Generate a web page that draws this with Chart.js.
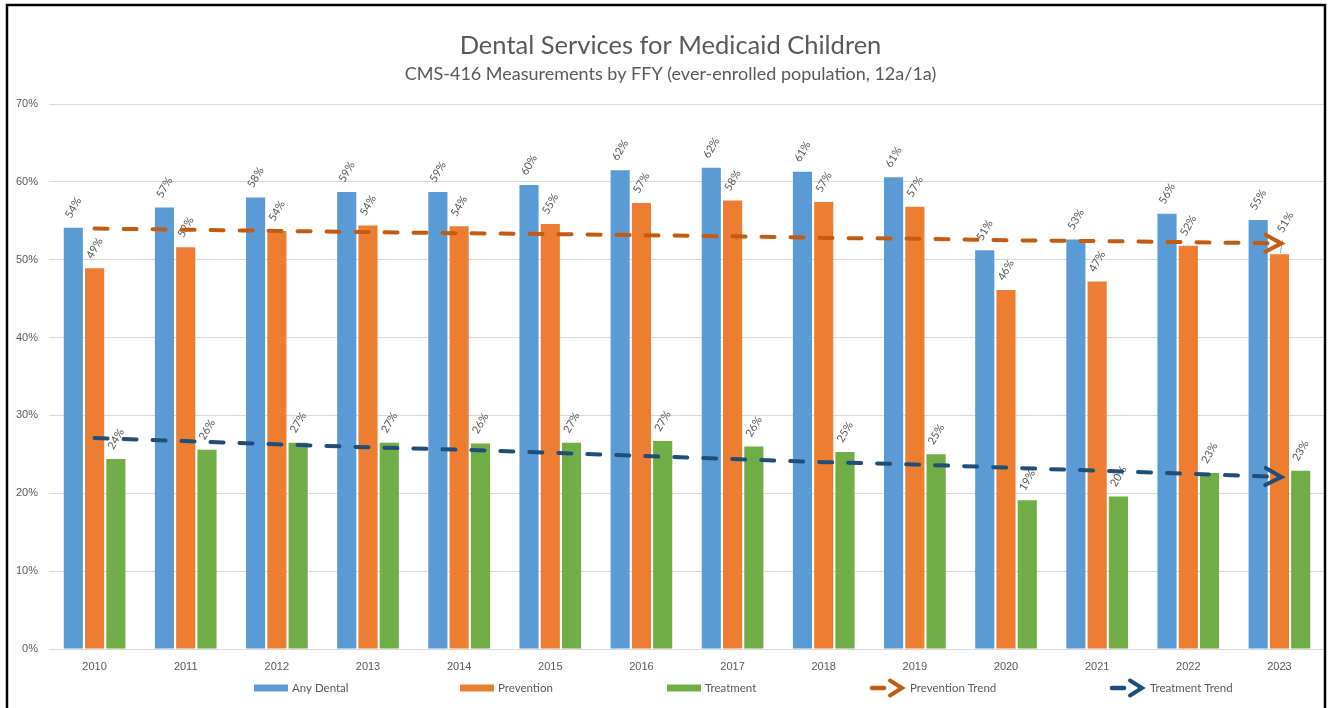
<!DOCTYPE html>
<html>
<head>
<meta charset="utf-8">
<script src="https://cdn.jsdelivr.net/npm/chart.js@4.4.1/dist/chart.umd.min.js"></script>
<style>
  html, body { margin: 0; padding: 0; background: #fff; }
  #wrap { width: 1330px; height: 708px; }
</style>
</head>
<body>
<div id="wrap"><canvas id="myChart" width="1330" height="708"></canvas></div>
<script>
const years = ["2010", "2011", "2012", "2013", "2014", "2015", "2016", "2017", "2018", "2019", "2020", "2021", "2022", "2023"];
const anyDental = [54.1, 56.7, 58.0, 58.7, 58.7, 59.6, 61.5, 61.8, 61.3, 60.6, 51.2, 52.6, 55.9, 55.1];
const prevention = [48.9, 51.6, 53.7, 54.4, 54.3, 54.6, 57.3, 57.6, 57.4, 56.8, 46.1, 47.2, 51.8, 50.7];
const treatment = [24.4, 25.6, 26.5, 26.5, 26.4, 26.5, 26.7, 26.0, 25.3, 25.0, 19.1, 19.6, 22.6, 22.9];
const preventionTrend = [54.0, 53.85, 53.7, 53.55, 53.4, 53.3, 53.15, 53.0, 52.8, 52.7, 52.5, 52.4, 52.25, 52.1];
const treatmentTrend = [27.1, 26.7, 26.3, 25.9, 25.6, 25.2, 24.8, 24.4, 24.0, 23.7, 23.3, 22.9, 22.5, 22.1];

const textGray = "#595959";
const FONT = "Lato, 'Noto Sans', sans-serif";

// white background + black frame (frame drawn last so gridlines stop at it)
const framePlugin = {
  id: "frame",
  beforeDraw(chart) {
    const ctx = chart.ctx;
    ctx.save();
    ctx.fillStyle = "#fff";
    ctx.fillRect(0, 0, chart.width, chart.height);
    ctx.restore();
  },
  afterDraw(chart) {
    const ctx = chart.ctx;
    ctx.save();
    ctx.fillStyle = "#fff";
    ctx.fillRect(1326, 0, 4, chart.height);
    ctx.strokeStyle = "#000";
    ctx.lineWidth = 2.5;
    ctx.strokeRect(7, 5, 1318, 720);
    ctx.restore();
  }
};

// rotated value labels above bars
const barLabels = {
  id: "barLabels",
  afterDatasetDraw(chart, args, opts) {
    const ds = chart.data.datasets[args.index];
    if (ds.type !== "bar") return;
    const ctx = chart.ctx;
    ctx.save();
    ctx.font = "11px " + FONT;
    ctx.fillStyle = textGray;
    ctx.textAlign = "center";
    ctx.textBaseline = "middle";
    args.meta.data.forEach((bar, i) => {
      const lift = (opts.nudge && opts.nudge[args.index + ":" + i]) || 0;
      const cx = bar.x + (lift ? 6 : 0);
      const cy = bar.y - 20 - lift;
      if (lift) {
        // leader line for the moved label
        ctx.strokeStyle = "#a6a6a6";
        ctx.lineWidth = 1;
        ctx.beginPath();
        ctx.moveTo(bar.x + 1, bar.y - 1);
        ctx.lineTo(bar.x + 3, bar.y - 14);
        ctx.stroke();
      }
      ctx.save();
      ctx.translate(cx, cy);
      ctx.rotate(-Math.PI / 3);
      ctx.fillText(Math.round(ds.data[i]) + "%", 0, 0);
      ctx.restore();
    });
    ctx.restore();
  }
};

function chevron(ctx, x, y, ang, color, len, half) {
  ctx.save();
  ctx.translate(x, y);
  ctx.rotate(ang);
  ctx.strokeStyle = color;
  ctx.lineWidth = 4;
  ctx.lineCap = "round";
  ctx.lineJoin = "miter";
  ctx.beginPath();
  ctx.moveTo(-len, -half);
  ctx.lineTo(0, 0);
  ctx.lineTo(-len, half);
  ctx.stroke();
  ctx.restore();
}

// arrow heads at the end of the trend lines
const trendArrows = {
  id: "trendArrows",
  afterDatasetsDraw(chart) {
    chart.data.datasets.forEach((ds, di) => {
      if (ds.type !== "line") return;
      const pts = chart.getDatasetMeta(di).data;
      const a = pts[pts.length - 2], b = pts[pts.length - 1];
      const ang = Math.atan2(b.y - a.y, b.x - a.x);
      chevron(chart.ctx, b.x + 2 * Math.cos(ang), b.y + 2 * Math.sin(ang), ang, ds.borderColor, 16, 8.5);
    });
  }
};

// legend in fixed slots like the original
const slotLegend = {
  id: "slotLegend",
  afterDraw(chart, args, opts) {
    const ctx = chart.ctx;
    const y = 688;
    ctx.save();
    ctx.font = "11.5px " + FONT;
    ctx.textBaseline = "middle";
    chart.data.datasets.forEach((ds, i) => {
      const x = opts.starts[i];
      let tx;
      if (ds.type === "bar") {
        ctx.fillStyle = ds.backgroundColor;
        ctx.fillRect(x, y - 3.5, 34, 7);
        tx = x + 38;
      } else {
        ctx.strokeStyle = ds.borderColor;
        ctx.lineWidth = 4.5;
        ctx.lineCap = "round";
        ctx.beginPath();
        ctx.moveTo(x + 2, y);
        ctx.lineTo(x + 14, y);
        ctx.stroke();
        chevron(ctx, x + 32, y, 0, ds.borderColor, 12, 7.5);
        tx = x + 40;
      }
      ctx.fillStyle = textGray;
      ctx.fillText(ds.label, tx, y);
    });
    ctx.restore();
  }
};

const barStyle = { type: "bar", order: 3, categoryPercentage: 0.7, barPercentage: 0.9 };
const lineStyle = {
  type: "line", order: 1, borderWidth: 4, borderDash: [13, 16], borderCapStyle: "round",
  pointRadius: 0, fill: false, tension: 0
};

new Chart(document.getElementById("myChart"), {
  data: {
    labels: years,
    datasets: [
      { ...barStyle, label: "Any Dental", data: anyDental, backgroundColor: "#5B9BD5" },
      { ...barStyle, label: "Prevention", data: prevention, backgroundColor: "#ED7D31" },
      { ...barStyle, label: "Treatment", data: treatment, backgroundColor: "#70AD47" },
      { ...lineStyle, label: "Prevention Trend", data: preventionTrend, borderColor: "#C55A11" },
      { ...lineStyle, label: "Treatment Trend", data: treatmentTrend, borderColor: "#1F4E79" },
    ],
  },
  options: {
    responsive: false,
    animation: false,
    layout: { padding: { left: 16, right: 5, top: 0, bottom: 0 } },
    scales: {
      x: {
        grid: { display: false },
        border: { display: false },
        ticks: { color: textGray, font: { size: 11 }, padding: 3, maxRotation: 0 },
        afterFit: (s) => { s.height = 59; },
      },
      y: {
        min: 0,
        max: 70,
        ticks: { stepSize: 10, color: textGray, font: { size: 11 }, padding: 11, callback: (v) => v + "%" },
        grid: { color: "#d9d9d9", drawTicks: false },
        border: { display: false },
        afterFit: (s) => { s.width = 33; },
      },
    },
    plugins: {
      legend: { display: false },
      tooltip: { enabled: false },
      title: {
        display: true,
        text: "Dental Services for Medicaid Children",
        color: textGray,
        font: { size: 25.5, weight: "normal", family: FONT },
        padding: { top: 30.7, bottom: 0 },
      },
      subtitle: {
        display: true,
        text: "CMS-416 Measurements by FFY (ever-enrolled population, 12a/1a)",
        color: textGray,
        font: { size: 18, family: FONT },
        padding: { top: 2, bottom: 19.1 },
      },
      barLabels: { nudge: { "1:13": 12 } },
      slotLegend: { starts: [254, 460, 667, 870, 1110] },
    },
  },
  plugins: [framePlugin, barLabels, trendArrows, slotLegend],
});
</script>
</body>
</html>
